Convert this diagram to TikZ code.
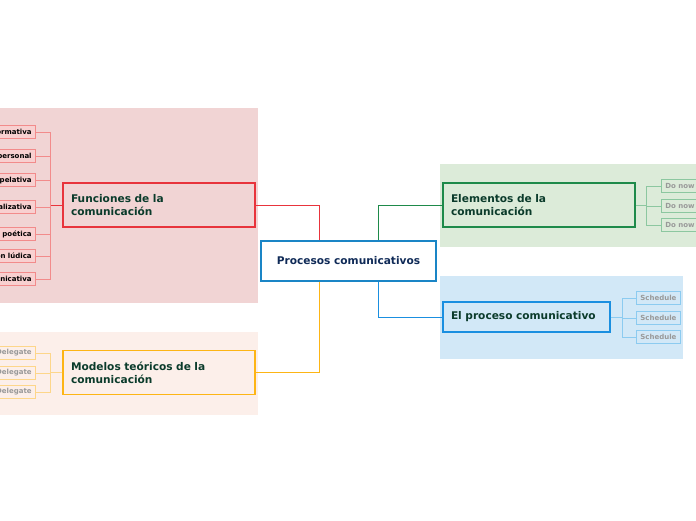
\documentclass[tikz,border=0pt]{standalone}
\usepackage{fontspec}
\setmainfont{DejaVu Sans}
\definecolor{redbg}{HTML}{F1D4D4}
\definecolor{redline}{HTML}{E8343C}
\definecolor{redsub}{HTML}{F28B8B}
\definecolor{redfill}{HTML}{F8D0D0}
\definecolor{orangebg}{HTML}{FCEFEA}
\definecolor{orangeline}{HTML}{FDB515}
\definecolor{orangesub}{HTML}{FDD68A}
\definecolor{greenbg}{HTML}{DCEBD9}
\definecolor{greenline}{HTML}{1E8A4A}
\definecolor{greensub}{HTML}{8CC7A0}
\definecolor{bluebg}{HTML}{D2E8F7}
\definecolor{blueline}{HTML}{1A8FE0}
\definecolor{bluesub}{HTML}{8CCBF0}
\definecolor{mainline}{HTML}{1A85C6}
\definecolor{maintext}{HTML}{0F2A57}
\definecolor{topictext}{HTML}{0B3B2B}

\begin{document}
\begin{tikzpicture}[
    x=1pt, y=-1pt,
    central/.style={draw=mainline, line width=1.3pt, fill=white, minimum width=175pt, minimum height=40pt, font=\fontsize{10.6}{13}\selectfont\bfseries\color{maintext}},
    topic/.style={line width=1.5pt, minimum height=44pt, text width=176pt, inner xsep=8pt, align=left, font=\fontsize{10.6}{13}\selectfont\bfseries\color{topictext}},
    sub/.style={line width=0.7pt, minimum height=13pt, inner xsep=4pt, inner ysep=1pt, font=\fontsize{7}{8}\selectfont\bfseries},
    link/.style={line width=0.9pt},
    sublink/.style={line width=0.6pt}
]
\useasboundingbox (0,0) rectangle (696,520);

% background areas of the four branches
\fill[redbg] (0,108) rectangle (258,303);
\fill[orangebg] (0,332) rectangle (258,415);
\fill[greenbg] (440,164) rectangle (696,247);
\fill[bluebg] (440,276) rectangle (683,359);

% central topic
\node[central] (central) at (348.5,261) {Procesos comunicativos};

% main topics
\node[topic, draw=redline, fill=redbg] (funciones) at (159,205) {Funciones de la\\comunicación};
\node[topic, draw=orangeline, fill=orangebg] (modelos) at (159,372.5) {Modelos teóricos de la\\comunicación};
\node[topic, draw=greenline, fill=greenbg] (elementos) at (539,205) {Elementos de la\\comunicación};
\node[topic, draw=blueline, fill=bluebg, minimum height=30pt, text width=151pt] (proceso) at (526.5,317) {El proceso comunicativo};

% links from the central topic
\draw[link, redline] ([xshift=-29.5pt]central.north) |- (funciones.east);
\draw[link, orangeline] ([xshift=-29.5pt]central.south) |- (modelos.east);
\draw[link, greenline] ([xshift=29.5pt]central.north) |- (elementos.west);
\draw[link, blueline] ([xshift=29.5pt]central.south) |- (proceso.west);

% subtopics of Funciones de la comunicación
\node[sub, draw=redsub, fill=redfill, anchor=east] (f1) at (36,132) {Función informativa};
\node[sub, draw=redsub, fill=redfill, anchor=east] (f2) at (36,156) {Función interpersonal};
\node[sub, draw=redsub, fill=redfill, anchor=east] (f3) at (36,180) {Función apelativa};
\node[sub, draw=redsub, fill=redfill, anchor=east] (f4) at (36,207) {Función realizativa};
\node[sub, draw=redsub, fill=redfill, anchor=east] (f5) at (36,234) {Función poética};
\node[sub, draw=redsub, fill=redfill, anchor=east] (f6) at (36,256) {Función lúdica};
\node[sub, draw=redsub, fill=redfill, anchor=east] (f7) at (36,279) {Función comunicativa};

% subtopics of Modelos teóricos
\node[sub, draw=orangesub, fill=orangebg, text=gray!80, anchor=east] (m1) at (36,353) {Delegate};
\node[sub, draw=orangesub, fill=orangebg, text=gray!80, anchor=east] (m2) at (36,373) {Delegate};
\node[sub, draw=orangesub, fill=orangebg, text=gray!80, anchor=east] (m3) at (36,392) {Delegate};

% subtopics of Elementos de la comunicación
\node[sub, draw=greensub, fill=greenbg, text=gray!80, anchor=west] (e1) at (661,186) {Do now};
\node[sub, draw=greensub, fill=greenbg, text=gray!80, anchor=west] (e2) at (661,206) {Do now};
\node[sub, draw=greensub, fill=greenbg, text=gray!80, anchor=west] (e3) at (661,225) {Do now};

% subtopics of El proceso comunicativo
\node[sub, draw=bluesub, fill=bluebg, text=gray!80, anchor=west] (p1) at (636,298) {Schedule};
\node[sub, draw=bluesub, fill=bluebg, text=gray!80, anchor=west] (p2) at (636,318) {Schedule};
\node[sub, draw=bluesub, fill=bluebg, text=gray!80, anchor=west] (p3) at (636,337) {Schedule};

% links to the subtopics
\draw[sublink, redline] (funciones.west) -- ++(-12,0);
\foreach \n in {f1,f2,f3,f4,f5,f6,f7}
  \draw[sublink, redsub] (funciones.west) ++(-12,0) |- (\n.east);
\foreach \n in {m1,m2,m3}
  \draw[sublink, orangesub] (modelos.west) -- ++(-12,0) |- (\n.east);
\foreach \n in {e1,e2,e3}
  \draw[sublink, greensub] (elementos.east) -- ++(11,0) |- (\n.west);
\foreach \n in {p1,p2,p3}
  \draw[sublink, bluesub] (proceso.east) -- ++(12,0) |- (\n.west);

\end{tikzpicture}
\end{document}
